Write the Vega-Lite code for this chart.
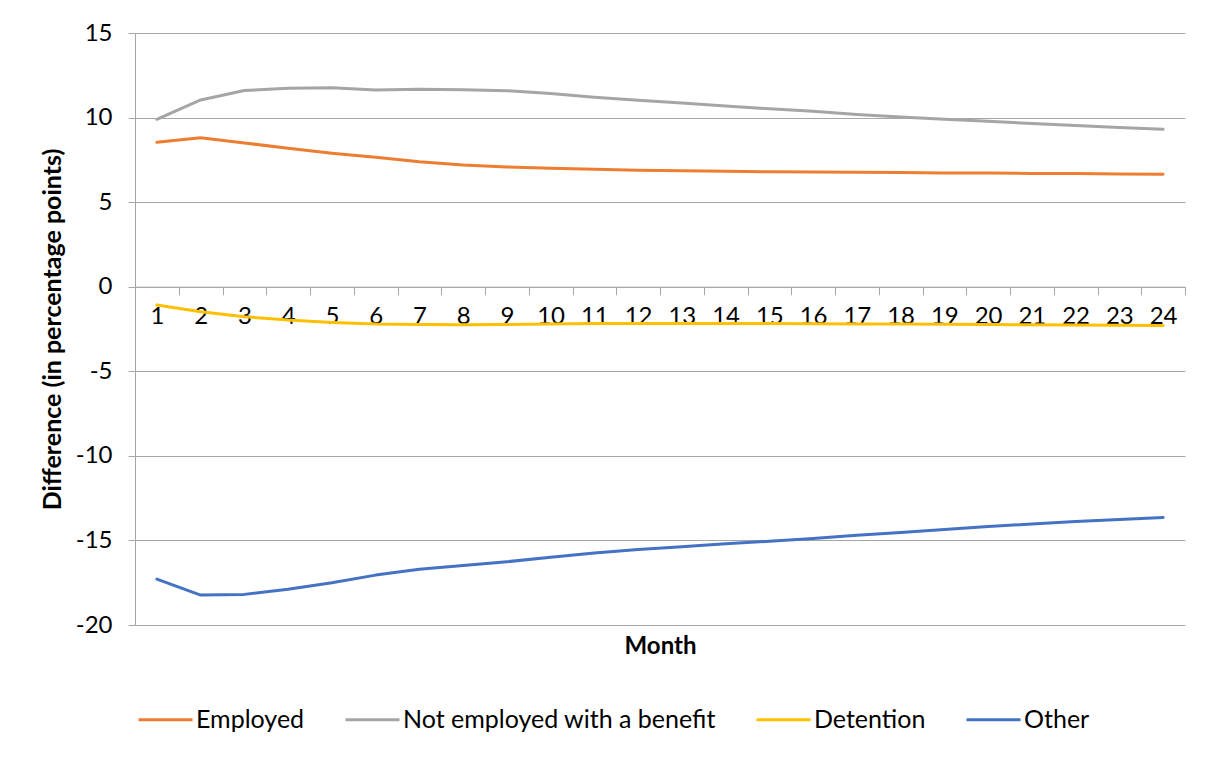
{
  "$schema": "https://vega.github.io/schema/vega-lite/v6.json",
  "width": 1050,
  "height": 592,
  "autosize": {"type": "none"},
  "padding": {"left": 135, "top": 33, "right": 27, "bottom": 135},
  "background": "white",
  "config": {
    "view": {"stroke": null},
    "font": "Lato"
  },
  "data": {
    "values": [
      {"month": 1, "series": "Employed", "value": 8.54},
      {"month": 2, "series": "Employed", "value": 8.81},
      {"month": 3, "series": "Employed", "value": 8.5},
      {"month": 4, "series": "Employed", "value": 8.18},
      {"month": 5, "series": "Employed", "value": 7.89},
      {"month": 6, "series": "Employed", "value": 7.65},
      {"month": 7, "series": "Employed", "value": 7.39},
      {"month": 8, "series": "Employed", "value": 7.2},
      {"month": 9, "series": "Employed", "value": 7.08},
      {"month": 10, "series": "Employed", "value": 7.0},
      {"month": 11, "series": "Employed", "value": 6.94},
      {"month": 12, "series": "Employed", "value": 6.89},
      {"month": 13, "series": "Employed", "value": 6.85},
      {"month": 14, "series": "Employed", "value": 6.82},
      {"month": 15, "series": "Employed", "value": 6.8},
      {"month": 16, "series": "Employed", "value": 6.78},
      {"month": 17, "series": "Employed", "value": 6.76},
      {"month": 18, "series": "Employed", "value": 6.75},
      {"month": 19, "series": "Employed", "value": 6.73},
      {"month": 20, "series": "Employed", "value": 6.72},
      {"month": 21, "series": "Employed", "value": 6.7},
      {"month": 22, "series": "Employed", "value": 6.69},
      {"month": 23, "series": "Employed", "value": 6.67},
      {"month": 24, "series": "Employed", "value": 6.65},
      {"month": 1, "series": "Not employed with a benefit", "value": 9.9},
      {"month": 2, "series": "Not employed with a benefit", "value": 11.04},
      {"month": 3, "series": "Not employed with a benefit", "value": 11.6},
      {"month": 4, "series": "Not employed with a benefit", "value": 11.73},
      {"month": 5, "series": "Not employed with a benefit", "value": 11.77},
      {"month": 6, "series": "Not employed with a benefit", "value": 11.63},
      {"month": 7, "series": "Not employed with a benefit", "value": 11.67},
      {"month": 8, "series": "Not employed with a benefit", "value": 11.65},
      {"month": 9, "series": "Not employed with a benefit", "value": 11.59},
      {"month": 10, "series": "Not employed with a benefit", "value": 11.42},
      {"month": 11, "series": "Not employed with a benefit", "value": 11.2},
      {"month": 12, "series": "Not employed with a benefit", "value": 11.03},
      {"month": 13, "series": "Not employed with a benefit", "value": 10.86},
      {"month": 14, "series": "Not employed with a benefit", "value": 10.68},
      {"month": 15, "series": "Not employed with a benefit", "value": 10.52},
      {"month": 16, "series": "Not employed with a benefit", "value": 10.38},
      {"month": 17, "series": "Not employed with a benefit", "value": 10.18},
      {"month": 18, "series": "Not employed with a benefit", "value": 10.03},
      {"month": 19, "series": "Not employed with a benefit", "value": 9.9},
      {"month": 20, "series": "Not employed with a benefit", "value": 9.78},
      {"month": 21, "series": "Not employed with a benefit", "value": 9.65},
      {"month": 22, "series": "Not employed with a benefit", "value": 9.53},
      {"month": 23, "series": "Not employed with a benefit", "value": 9.42},
      {"month": 24, "series": "Not employed with a benefit", "value": 9.31},
      {"month": 1, "series": "Detention", "value": -1.08},
      {"month": 2, "series": "Detention", "value": -1.48},
      {"month": 3, "series": "Detention", "value": -1.77},
      {"month": 4, "series": "Detention", "value": -1.97},
      {"month": 5, "series": "Detention", "value": -2.11},
      {"month": 6, "series": "Detention", "value": -2.2},
      {"month": 7, "series": "Detention", "value": -2.23},
      {"month": 8, "series": "Detention", "value": -2.25},
      {"month": 9, "series": "Detention", "value": -2.23},
      {"month": 10, "series": "Detention", "value": -2.2},
      {"month": 11, "series": "Detention", "value": -2.18},
      {"month": 12, "series": "Detention", "value": -2.17},
      {"month": 13, "series": "Detention", "value": -2.17},
      {"month": 14, "series": "Detention", "value": -2.17},
      {"month": 15, "series": "Detention", "value": -2.18},
      {"month": 16, "series": "Detention", "value": -2.19},
      {"month": 17, "series": "Detention", "value": -2.2},
      {"month": 18, "series": "Detention", "value": -2.21},
      {"month": 19, "series": "Detention", "value": -2.22},
      {"month": 20, "series": "Detention", "value": -2.24},
      {"month": 21, "series": "Detention", "value": -2.25},
      {"month": 22, "series": "Detention", "value": -2.27},
      {"month": 23, "series": "Detention", "value": -2.28},
      {"month": 24, "series": "Detention", "value": -2.29},
      {"month": 1, "series": "Other", "value": -17.29},
      {"month": 2, "series": "Other", "value": -18.23},
      {"month": 3, "series": "Other", "value": -18.19},
      {"month": 4, "series": "Other", "value": -17.88},
      {"month": 5, "series": "Other", "value": -17.5},
      {"month": 6, "series": "Other", "value": -17.05},
      {"month": 7, "series": "Other", "value": -16.71},
      {"month": 8, "series": "Other", "value": -16.48},
      {"month": 9, "series": "Other", "value": -16.26},
      {"month": 10, "series": "Other", "value": -15.99},
      {"month": 11, "series": "Other", "value": -15.75},
      {"month": 12, "series": "Other", "value": -15.54},
      {"month": 13, "series": "Other", "value": -15.37},
      {"month": 14, "series": "Other", "value": -15.2},
      {"month": 15, "series": "Other", "value": -15.05},
      {"month": 16, "series": "Other", "value": -14.88},
      {"month": 17, "series": "Other", "value": -14.7},
      {"month": 18, "series": "Other", "value": -14.53},
      {"month": 19, "series": "Other", "value": -14.35},
      {"month": 20, "series": "Other", "value": -14.18},
      {"month": 21, "series": "Other", "value": -14.03},
      {"month": 22, "series": "Other", "value": -13.88},
      {"month": 23, "series": "Other", "value": -13.76},
      {"month": 24, "series": "Other", "value": -13.64}
    ]
  },
  "mark": {"type": "line", "strokeWidth": 3, "strokeCap": "round", "strokeJoin": "round"},
  "encoding": {
    "x": {
      "field": "month",
      "type": "ordinal",
      "sort": "ascending",
      "bandPosition": 0.5,
      "scale": {"type": "band", "paddingInner": 0, "paddingOuter": 0},
      "axis": {
        "title": "Month",
        "titleFont": "Lato",
        "titleFontSize": 24,
        "titleFontWeight": "bold",
        "titleColor": "black",
        "titleX": 525,
        "titleY": 360,
        "titleBaseline": "middle",
        "titleAlign": "center",
        "offset": -338.29,
        "tickBand": "extent",
        "tickSize": 8,
        "tickColor": "#a6a6a6",
        "domainColor": "#a6a6a6",
        "domainWidth": 1,
        "labelAngle": 0,
        "labelFontSize": 24,
        "labelColor": "black",
        "labelPadding": 10,
        "labelFont": "Lato",
        "grid": false
      }
    },
    "y": {
      "field": "value",
      "type": "quantitative",
      "scale": {"domain": [-20, 15], "nice": false, "zero": false},
      "axis": {
        "title": "Difference (in percentage points)",
        "titleFont": "Lato",
        "titleFontSize": 25,
        "titleFontWeight": "bold",
        "titleColor": "black",
        "titleX": -83,
        "titleY": 296,
        "titleAngle": -90,
        "titleBaseline": "middle",
        "titleAlign": "center",
        "values": [-20, -15, -10, -5, 0, 5, 10, 15],
        "labelExpr": "toString(datum.value)",
        "tickSize": 7,
        "tickColor": "#a6a6a6",
        "domainColor": "#a6a6a6",
        "gridColor": "#a6a6a6",
        "gridWidth": 1,
        "labelFont": "Lato",
        "labelFontSize": 24,
        "labelColor": "black",
        "labelPadding": 16
      }
    },
    "color": {
      "field": "series",
      "type": "nominal",
      "scale": {
        "domain": ["Employed", "Not employed with a benefit", "Detention", "Other"],
        "range": ["#ed7d31", "#a5a5a5", "#ffc000", "#4472c4"]
      },
      "legend": {
        "title": null,
        "orient": "none",
        "direction": "horizontal",
        "columns": 4,
        "legendX": 2,
        "legendY": 658,
        "symbolType": "stroke",
        "symbolSize": 2916,
        "symbolStrokeWidth": 3,
        "labelFont": "Lato",
        "labelFontSize": 25,
        "labelColor": "black",
        "labelOffset": 2,
        "columnPadding": 34,
        "labelLimit": 400
      }
    }
  }
}
